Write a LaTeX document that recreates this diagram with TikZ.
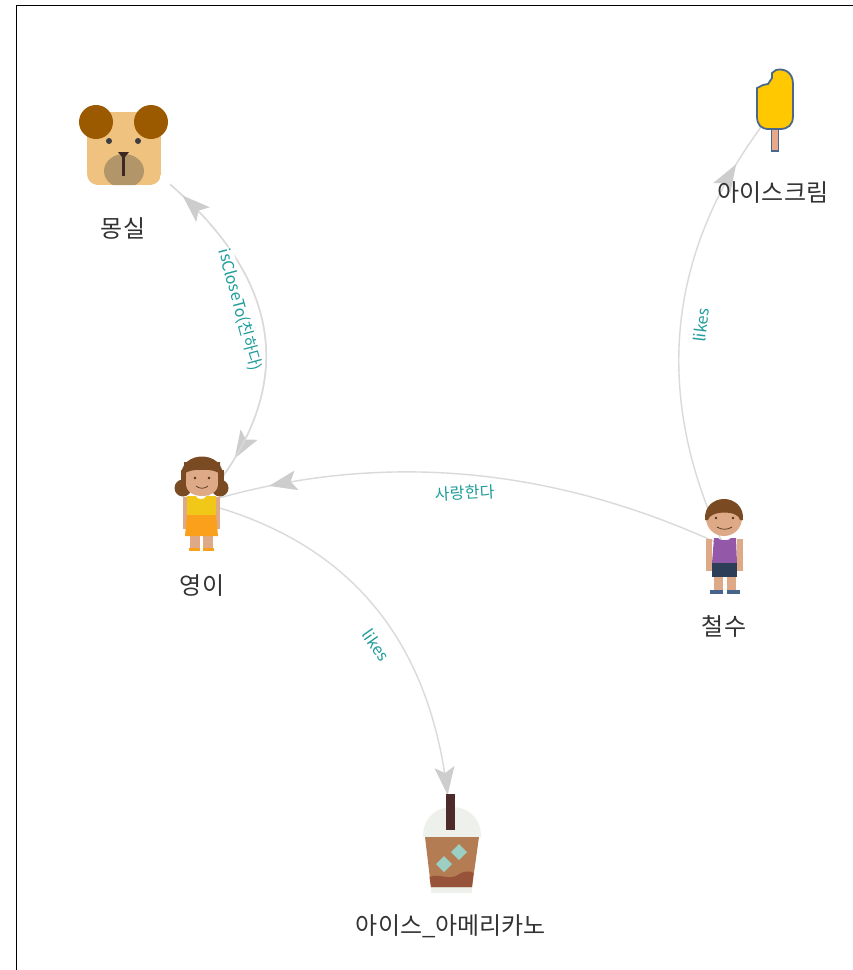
\documentclass[tikz,border=0pt]{standalone}
\usepackage{fontspec}
\setmainfont{Noto Sans CJK KR}
\usetikzlibrary{decorations.markings}
\definecolor{edgegrey}{HTML}{DADADA}
\definecolor{tipgrey}{HTML}{CDCDCD}
\definecolor{labelteal}{HTML}{1F9C9C}
\definecolor{nametext}{HTML}{333333}
\definecolor{skin}{HTML}{DDA986}
\definecolor{hair}{HTML}{7A4A22}
\tikzset{
  centre/.style={inner sep=0pt,minimum size=0pt},
  link/.style={draw=edgegrey,line width=1.4pt},
  tipat/.style={postaction={decorate,decoration={markings,mark=at position #1 with {\fill[tipgrey] (0pt,0pt)--(-28pt,10pt)--(-22pt,0pt)--(-28pt,-10pt)--cycle;}}}},
  linklabel/.style={text=labelteal,font=\fontsize{16}{18}\selectfont,fill=white,inner sep=0.6pt},
  nodename/.style={text=nametext,font=\fontsize{24}{28}\selectfont,inner sep=0pt}
}
\begin{document}
\begin{tikzpicture}[x=1pt,y=-1pt]
\useasboundingbox (0,0) rectangle (853,970);
\fill[white] (0,0) rectangle (853,970);
\draw[black,line width=0.8pt] (16,970) -- (16,5.5) -- (853,5.5);
% anchors
\node[centre] (dog) at (123,148) {};
\node[centre] (girl) at (202,503) {};
\node[centre] (boy) at (724,546) {};
\node[centre] (ice) at (774,110) {};
\node[centre] (coffee) at (451,845) {};
% connectors
\draw[link,tipat=-55pt] (dog) .. controls (282,259) and (309,378) .. (girl);
\draw[link,tipat=-76pt] (girl) .. controls (309,378) and (282,259) .. (dog);
\draw[link,tipat=-69pt] (boy) .. controls (550,465) and (376,450) .. (girl);
\draw[link,tipat=-50pt] (girl) .. controls (363,545) and (446,659) .. (coffee);
\draw[link,tipat=-66pt] (boy) .. controls (650,390) and (667,245) .. (ice);
% connector labels
\node[linklabel,rotate=-75] (lclose) at (240,310) {isCloseTo(친하다)};
\node[linklabel,rotate=3] (llove) at (465,493) {사랑한다};
\node[linklabel,rotate=-55] (llikea) at (376,645) {likes};
\node[linklabel,rotate=83] (llikeb) at (701,325) {likes};
% dog
\begin{scope}
\fill[fill=white] (80,100) rectangle (170,190);
\path[clip] [rounded corners=11pt] (87,112) rectangle (161,185);
\fill[fill={rgb,255:red,239;green,194;blue,127}] (87,112) rectangle (161,185);
\fill[fill={rgb,255:red,179;green,149;blue,106}] (124,171) ellipse [x radius=20,y radius=17];
\end{scope}
\fill[fill={rgb,255:red,155;green,90;blue,0}] (96,122) ellipse [x radius=17,y radius=17];
\fill[fill={rgb,255:red,155;green,90;blue,0}] (151,122) ellipse [x radius=17,y radius=17];
\fill[fill={rgb,255:red,60;green,60;blue,66}] (109,141) circle [radius=3];
\fill[fill={rgb,255:red,60;green,60;blue,66}] (138,141) circle [radius=3];
\fill[fill={rgb,255:red,62;green,39;blue,35}] (118,152) -- (129,152) -- (125,157) -- (122,157) -- cycle;
\draw[draw={rgb,255:red,62;green,39;blue,35},line width=2.2pt] (123.5,153) -- (123.5,176);
% girl
\fill[hair] (183,488) circle [radius=8.5];
\fill[hair] (220,488) circle [radius=8.5];
\fill[hair] (181,470) rectangle (224,490);
\fill[white] (176,462) -- (181,478) -- (181,455) -- cycle;
\fill[hair] (181,476) .. controls (181,450) and (223,450) .. (223,476) -- (223,490) -- (181,490) -- cycle;
\fill[skin] (186,470) rectangle (218,484);
\fill[skin] (186,484) .. controls (186,500) and (218,500) .. (218,484) -- cycle;
\fill[hair] (184,474) .. controls (190,468) and (214,468) .. (220,474) -- (220,462) -- (184,462) -- cycle;
\fill[hair!70!black] (195,478) circle [radius=1.3];
\fill[hair!70!black] (209,478) circle [radius=1.3];
\draw[hair!70!black,line width=0.7pt] (196,486) .. controls (199,489) and (205,489) .. (208,486);
\fill[skin] (183,497) rectangle (189,529);
\fill[skin] (214,497) rectangle (220,529);
\fill[skin] (190,535) rectangle (200,549);
\fill[skin] (203,535) rectangle (213,549);
\fill[fill={rgb,255:red,242;green,200;blue,24}] (187,496) -- (216,496) -- (216,515) -- (187,515) -- cycle;
\fill[fill={rgb,255:red,250;green,160;blue,26}] (187,515) -- (216,515) -- (218,536) -- (185,536) -- cycle;
\fill[white] (196,496) .. controls (197,500) and (205,500) .. (206,496) -- cycle;
\fill[fill={rgb,255:red,250;green,160;blue,26}] (189,548) rectangle (200,551);
\fill[fill={rgb,255:red,250;green,160;blue,26}] (203,548) rectangle (214,551);
% boy
\fill[skin] (706,539) rectangle (712,571);
\fill[skin] (737,539) rectangle (743,571);
\fill[skin] (714,575) rectangle (723,591);
\fill[skin] (727,575) rectangle (736,591);
\fill[skin] (724,518) circle [radius=18];
\fill[hair] (705,520) .. controls (703,492) and (745,492) .. (743,520) -- (740,520) .. controls (739,510) and (710,510) .. (708,520) -- cycle;
\fill[hair!70!black] (716,518) circle [radius=1.3];
\fill[hair!70!black] (733,518) circle [radius=1.3];
\draw[hair!70!black,line width=0.7pt] (717,527) .. controls (721,530) and (728,530) .. (732,527);
\fill[fill={rgb,255:red,148;green,88;blue,168}] (714,538) -- (718,538) .. controls (719,541) and (730,541) .. (731,538) -- (736,538) -- (737,563) -- (712,563) -- cycle;
\fill[fill={rgb,255:red,44;green,62;blue,88}] (712,563) rectangle (737,577);
\fill[fill={rgb,255:red,70;green,100;blue,140}] (710,590) rectangle (723,593.5);
\fill[fill={rgb,255:red,70;green,100;blue,140}] (727,590) rectangle (740,593.5);
% popsicle
\draw[draw={rgb,255:red,74;green,104;blue,140},line width=1.8pt,fill={rgb,255:red,232;green,169;blue,138}] (771.5,127) rectangle (778.5,151) ;
\draw[draw={rgb,255:red,74;green,104;blue,140},line width=1.8pt,fill={rgb,255:red,255;green,200;blue,0}]
 (757,88) -- (763,85) -- (768,84) -- (772,78) -- (772,73) -- (776,70) .. controls (784,68) and (793,72) .. (793,84)
 -- (793,116) .. controls (793,125) and (788,129) .. (780,129) -- (769,129) .. controls (761,129) and (757,125) .. (757,116) -- cycle;
% coffee
\fill[fill={rgb,255:red,238;green,240;blue,236}] (423,837) .. controls (423,816) and (438,807) .. (452,807) .. controls (466,807) and (481,816) .. (481,837) -- cycle;
\fill[fill={rgb,255:red,238;green,240;blue,236}] (431,885) rectangle (472,893);
\fill[fill={rgb,255:red,180;green,124;blue,82}] (425,837) -- (479,837) -- (472,887) -- (431,887) -- cycle;
\fill[fill={rgb,255:red,150;green,83;blue,58}] (429.5,877) .. controls (440,873) and (447,880) .. (456,876) .. controls (463,871) and (470,870) .. (473.5,873) -- (472,887) -- (431,887) -- cycle;
\fill[fill={rgb,255:red,156;green,207;blue,196}] (459,844) -- (467,852) -- (459,860) -- (451,852) -- cycle;
\fill[fill={rgb,255:red,156;green,207;blue,196}] (444,856) -- (452,864) -- (444,872) -- (436,864) -- cycle;
\fill[fill={rgb,255:red,78;green,43;blue,43}] (446,794) rectangle (455,830);
% names
\node[nodename] (ndog) at (123,228) {몽실};
\node[nodename] (ngirl) at (202,586) {영이};
\node[nodename] (nboy) at (724,626) {철수};
\node[nodename] (nice) at (773,193) {아이스크림};
\node[nodename] (ncoffee) at (451,926) {아이스\_아메리카노};
\end{tikzpicture}
\end{document}
